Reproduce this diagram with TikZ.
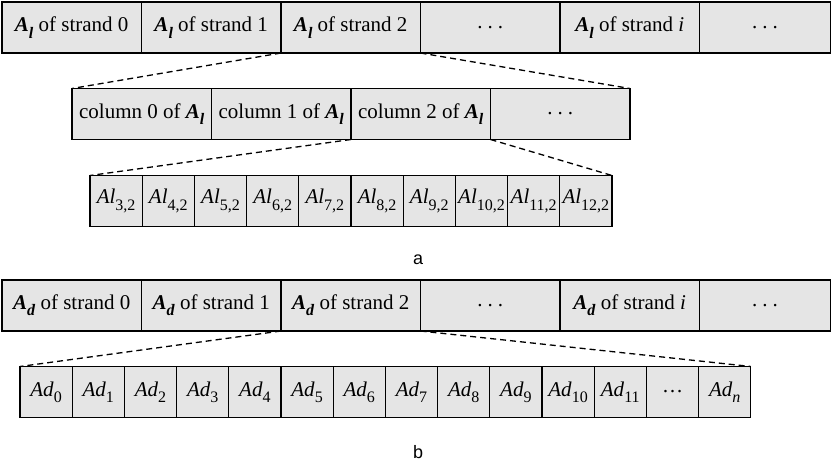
\documentclass[tikz,border=0pt]{standalone}
\usepackage{fontspec}
\setmainfont{Liberation Serif}
\newfontfamily\capfont{Liberation Sans}
\usepackage{tikz}
\usetikzlibrary{positioning}

\newcommand{\sbx}[1]{\raisebox{-0.3em}{\fontsize{16}{16}\selectfont #1}}
\newcommand{\Al}{\textbf{\textit{A}}\sbx{\textbf{\textit{l}}}}
\newcommand{\Ad}{\textbf{\textit{A}}\sbx{\textbf{\textit{d}}}}
\newcommand{\gapdots}{.\hspace{5pt}.\hspace{5pt}.}

\tikzstyle{cell} = [
    rectangle,
    draw=black,
    fill=black!10,
    line width=1.3pt,
    minimum width=139.5pt,
    minimum height=51pt,
    inner sep=0pt,
    outer sep=0pt,
    font=\fontsize{21}{25}\selectfont
]
\tikzstyle{smallcell} = [
    cell,
    minimum width=52.2pt
]
\tikzstyle{zoomline} = [
    line width=1.3pt,
    dash pattern=on 6pt off 4pt
]
\tikzstyle{caption} = [
    font=\capfont\fontsize{18}{20}\selectfont
]

\begin{document}
\begin{tikzpicture}[x=1pt, y=-1pt]
    \useasboundingbox (0,0) rectangle (832,466);

    % A_l of every strand
    \node[cell] (ls0) at (71.75,27.5) {\Al\ of strand 0};
    \node[cell, right=0pt of ls0] (ls1) {\Al\ of strand 1};
    \node[cell, right=0pt of ls1] (ls2) {\Al\ of strand 2};
    \node[cell, right=0pt of ls2] (ls3) {\gapdots};
    \node[cell, right=0pt of ls3] (ls4) {\Al\ of strand \textit{i}};
    \node[cell, right=0pt of ls4, minimum width=131pt] (ls5) {\gapdots};

    % Columns of A_l
    \node[cell] (col0) at (141.75,114) {column 0 of \Al};
    \node[cell, right=0pt of col0] (col1) {column 1 of \Al};
    \node[cell, right=0pt of col1] (col2) {column 2 of \Al};
    \node[cell, right=0pt of col2] (col3) {\gapdots};

    % Entries of column 2
    \foreach \i [evaluate=\i as \k using int(\i+2)] in {1,...,10}
        \node[smallcell] (al\k) at ({90+52.2*(\i-0.5)},201) {\textit{Al}\sbx{\k,2}};

    \node[caption] (capa) at (418,260) {a};

    % A_d of every strand
    \node[cell] (ds0) at (71.75,305.5) {\Ad\ of strand 0};
    \node[cell, right=0pt of ds0] (ds1) {\Ad\ of strand 1};
    \node[cell, right=0pt of ds1] (ds2) {\Ad\ of strand 2};
    \node[cell, right=0pt of ds2] (ds3) {\gapdots};
    \node[cell, right=0pt of ds3] (ds4) {\Ad\ of strand \textit{i}};
    \node[cell, right=0pt of ds4, minimum width=131pt] (ds5) {\gapdots};

    % Entries of A_d
    \foreach \i in {0,...,11}
        \node[smallcell] (ad\i) at ({20+52.2*(\i+0.5)},392) {\textit{Ad}\sbx{\i}};
    \node[smallcell, right=0pt of ad11] (addots) {\textellipsis};
    \node[smallcell, right=0pt of addots] (adn) {\textit{Ad}\sbx{\textit{n}}};

    \node[caption] (capb) at (418,452) {b};

    % Zoom lines
    \draw[zoomline] (ls2.south west) -- (col0.north west);
    \draw[zoomline] (ls2.south east) -- (col3.north east);
    \draw[zoomline] (col2.south west) -- (al3.north west);
    \draw[zoomline] (col2.south east) -- (al12.north east);
    \draw[zoomline] (ds2.south west) -- (ad0.north west);
    \draw[zoomline] (ds2.south east) -- (adn.north east);
\end{tikzpicture}
\end{document}
